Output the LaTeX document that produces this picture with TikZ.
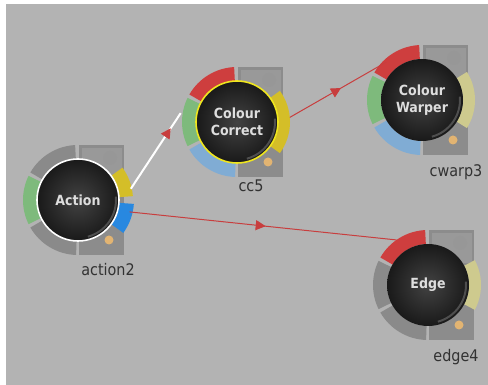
\documentclass[tikz,border=0pt]{standalone}
\usepackage{fontspec}
\newfontfamily\ballfont[FakeStretch=0.9]{DejaVu Sans}
\newfontfamily\tagfont[FakeStretch=0.9]{DejaVu Sans}
\usetikzlibrary{arrows.meta,decorations.markings,calc}

\definecolor{bg}{RGB}{179,179,179}
\definecolor{panelgray}{RGB}{140,140,140}
\definecolor{panelhi}{RGB}{153,153,153}
\definecolor{ringgray}{RGB}{138,138,138}
\definecolor{segred}{RGB}{206,62,62}
\definecolor{seggreen}{RGB}{126,186,124}
\definecolor{segblue}{RGB}{128,172,212}
\definecolor{segyellow}{RGB}{212,190,40}
\definecolor{segpale}{RGB}{206,202,142}
\definecolor{portblue}{RGB}{40,136,224}
\definecolor{linkred}{RGB}{200,62,62}
\definecolor{dotorange}{RGB}{226,180,114}
\definecolor{ballfg}{RGB}{222,222,222}
\definecolor{tagfg}{RGB}{50,50,50}
\definecolor{rimyellow}{RGB}{240,230,30}

\tikzset{
  ball/.style={circle, minimum size=82pt, inner sep=0pt, line width=1.6pt,
    text=ballfg, font=\ballfont\bfseries\fontsize{14}{17}\selectfont, align=center,
    inner color=black!74, outer color=black!90},
  tag/.style={font=\tagfont\fontsize{16}{18}\selectfont, text=tagfg, inner sep=0pt},
  redlink/.style={linkred, line width=1pt, postaction={decorate},
    decoration={markings, mark=at position #1 with
      {\arrow[linkred]{Triangle[length=10pt,width=10pt]}}}},
  whitelink/.style={white, line width=2pt, postaction={decorate},
    decoration={markings, mark=at position #1 with
      {\arrow[linkred]{Triangle[length=10pt,width=10pt]}}}},
}

% annular sector: centre, start angle, end angle, colour, outer radius
\newcommand\ringseg[5]{%
  \fill[#4] ($(#1)+(#2:#5)$) arc[start angle=#2,end angle=#3,radius=#5]
    -- ($(#1)+(#3:41pt)$) arc[start angle=#3,end angle=#2,radius=41pt] -- cycle;}

% one effect unit: name, position, ball text, top / left / bottom colours, rim colour
\newcommand\fxunit[7]{%
  \coordinate (#1-c) at #2;
  \fill[panelgray] ($(#1-c)+(1pt,-55pt)$) rectangle ($(#1-c)+(46pt,55pt)$);
  \fill[panelhi] ($(#1-c)+(4pt,22pt)$) rectangle ($(#1-c)+(44pt,52pt)$);
  \fill[panelgray!90!white] ($(#1-c)+(32pt,42pt)$) circle[radius=7pt];
  \fill[dotorange] ($(#1-c)+(31pt,-40pt)$) circle[radius=4.5pt];
  \ringseg{#1-c}{93}{150}{#4}{55pt}
  \ringseg{#1-c}{154}{206}{#5}{55pt}
  \ringseg{#1-c}{210}{268}{#6}{55pt}
}

\begin{document}
\begin{tikzpicture}[x=1pt,y=1pt]
  \useasboundingbox (0,0) rectangle (488,385);
  \fill[bg] (6,0) rectangle (488,381);

  % units: panels and rings
  \fxunit{a}{(78,185)}{Action}{ringgray}{seggreen}{ringgray}{white}
  \ringseg{a-c}{4}{36}{segyellow}{55pt}
  \ringseg{a-c}{-36}{-4}{portblue}{56pt}

  \fxunit{cc}{(237,263)}{}{segred}{seggreen}{segblue}{}
  \ringseg{cc-c}{-36}{36}{segyellow}{53pt}

  \fxunit{cw}{(422,285)}{}{segred}{seggreen}{segblue}{}
  \ringseg{cw-c}{-32}{32}{segpale}{53pt}

  \fxunit{ed}{(428,100)}{}{segred}{ringgray}{ringgray}{}
  \ringseg{ed-c}{-28}{28}{segpale}{53pt}

  % balls
  \node[ball, draw=white] (a) at (a-c) {Action};
  \node[ball, draw=rimyellow] (cc) at (cc-c) {Colour\\Correct};
  \node[ball] (cw) at (cw-c) {Colour\\Warper};
  \node[ball] (ed) at (ed-c) {Edge};

  % glossy rims
  \foreach \n in {a,cc,cw,ed}{
    \draw[white, opacity=0.22, line width=2pt]
      ($(\n)+(-75:38pt)$) arc[start angle=-75,end angle=5,radius=38pt];
  }

  % unit names
  \node[tag] (a-tag) at (108,115) {action2};
  \node[tag] (cc-tag) at (251,199) {cc5};
  \node[tag] (cw-tag) at (456,213) {cwarp3};
  \node[tag] (ed-tag) at (456,28) {edge4};

  % ports
  \coordinate (a-out1) at ($(a)+(12:54pt)$);
  \coordinate (a-out2) at ($(a)+(-13:53pt)$);
  \coordinate (cc-in) at ($(cc)+(171:57pt)$);
  \coordinate (cc-out) at ($(cc)+(5:53pt)$);
  \coordinate (cw-in) at ($(cw)+(133:52pt)$);
  \coordinate (ed-in) at ($(ed)+(125:55pt)$);

  % links
  \draw[whitelink=0.8] (a-out1) -- (cc-in);
  \draw[redlink=0.53] (cc-out) -- (cw-in);
  \draw[redlink=0.51] (a-out2) -- (ed-in);
\end{tikzpicture}
\end{document}
